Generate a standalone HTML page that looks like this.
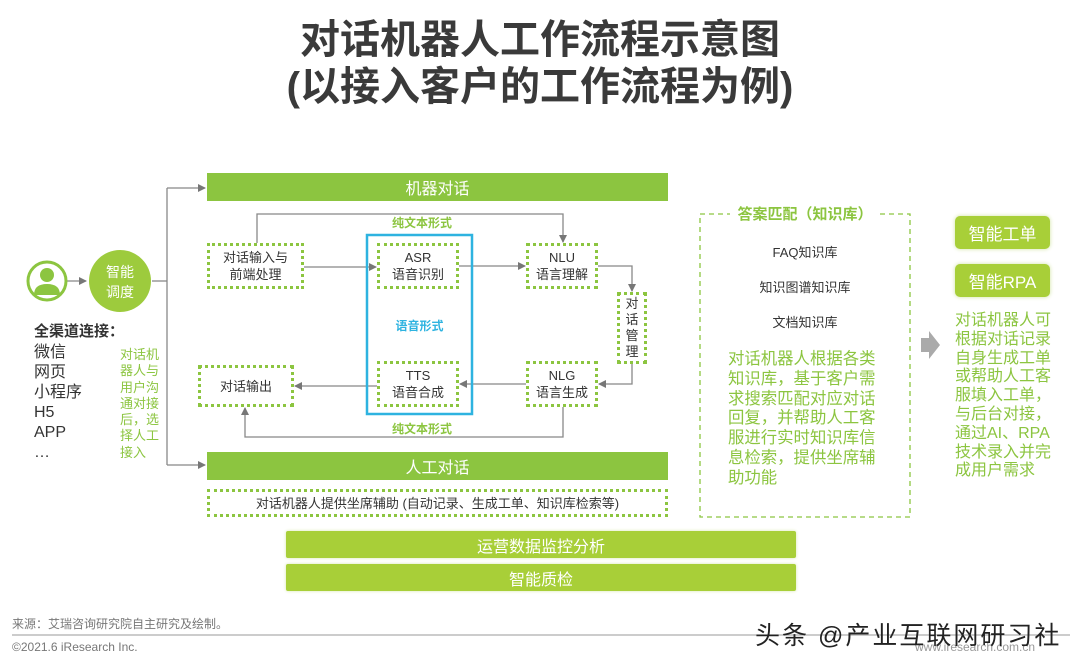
<!DOCTYPE html>
<html><head><meta charset="utf-8">
<style>
*{margin:0;padding:0;box-sizing:border-box}
body{width:1080px;height:668px;background:#fff;position:relative;overflow:hidden;font-family:"Liberation Sans","Noto Sans CJK SC",sans-serif;color:#333}
.a{position:absolute}
.t{position:absolute;left:0;width:1080px;text-align:center;font-weight:bold;font-size:40px;color:#3a3a3a;line-height:48px}
.bar{position:absolute;background:#8cc540;color:#fff;font-size:16px;display:flex;align-items:center;justify-content:center}
.bar2{position:absolute;background:#a8cf38;color:#fff;font-size:16px;display:flex;align-items:center;justify-content:center;border-radius:2px;box-shadow:0 0 3px #d8e8b0}
.box{position:absolute;border:3px dotted #8cc540;background:#fff;font-size:13px;color:#333;display:flex;align-items:center;justify-content:center;text-align:center;line-height:17px}
.g{color:#8cc540}
.btn{position:absolute;background:#a8cf38;color:#fff;font-size:17px;border-radius:5px;display:flex;align-items:center;justify-content:center;box-shadow:0 0 4px #cfe3a0}
</style></head><body>
<div class="t" style="top:16px">对话机器人工作流程示意图</div>
<div class="t" style="top:63px">(以接入客户的工作流程为例)</div>

<svg class="a" style="left:0;top:0" width="1080" height="668">
<defs><marker id="ar" markerWidth="8" markerHeight="8" refX="7" refY="4" orient="auto" markerUnits="userSpaceOnUse"><path d="M0,0 L8,4 L0,8z" fill="#777"/></marker></defs>
<g stroke="#888" stroke-width="1.3" fill="none">
<line x1="67" y1="281" x2="86" y2="281" marker-end="url(#ar)"/>
<polyline points="152,281 167,281"/>
<line x1="167" y1="188" x2="167" y2="465"/>
<line x1="167" y1="188" x2="205" y2="188" marker-end="url(#ar)"/>
<line x1="167" y1="465" x2="205" y2="465" marker-end="url(#ar)"/>
<polyline points="257,243 257,214 563,214 563,242" marker-end="url(#ar)"/>
<line x1="304" y1="267" x2="376" y2="267" marker-end="url(#ar)"/>
<line x1="459" y1="266" x2="525" y2="266" marker-end="url(#ar)"/>
<polyline points="598,266 632,266 632,291" marker-end="url(#ar)"/>
<polyline points="632,364 632,384 599,384" marker-end="url(#ar)"/>
<line x1="526" y1="384" x2="460" y2="384" marker-end="url(#ar)"/>
<line x1="377" y1="386" x2="295" y2="386" marker-end="url(#ar)"/>
<polyline points="563,407 563,437 245,437 245,408" marker-end="url(#ar)"/>
</g>
<rect x="367" y="235" width="105" height="179" fill="none" stroke="#2eb3e0" stroke-width="2.5"/>
<rect x="700" y="214" width="210" height="303" fill="none" stroke="#8cc540" stroke-width="1.3" stroke-dasharray="5,4"/>
<path d="M921,338 h8 v-7 l11,14 l-11,14 v-7 h-8z" fill="#aaa"/>
<line x1="12" y1="635" x2="1070" y2="635" stroke="#999" stroke-width="1"/>
<circle cx="47" cy="281" r="19" fill="#fff" stroke="#8cc540" stroke-width="3"/>
<circle cx="47" cy="275" r="7" fill="#8cc540"/>
<path d="M34,295 q0,-11 13,-11 q13,0 13,11z" fill="#8cc540"/>
<circle cx="120" cy="281" r="31" fill="#9dcb3d"/>
</svg>

<div class="a" style="left:89px;top:262px;width:62px;text-align:center;color:#fff;font-size:14px;line-height:20px">智能<br>调度</div>
<div class="a" style="left:34px;top:323px;font-size:15px;font-weight:bold;color:#333;line-height:18px">全渠道连接：</div>
<div class="a" style="left:34px;top:343px;font-size:16px;line-height:20px;color:#333">微信<br>网页<br>小程序<br>H5<br>APP<br>…</div>
<div class="a g" style="left:120px;top:347px;font-size:13px;line-height:16.3px;width:42px">对话机<br>器人与<br>用户沟<br>通对接<br>后，选<br>择人工<br>接入</div>

<div class="bar" style="left:207px;top:173px;width:461px;height:28px">机器对话</div>
<div class="bar" style="left:207px;top:452px;width:461px;height:28px">人工对话</div>
<div class="box" style="left:207px;top:489px;width:461px;height:28px">对话机器人提供坐席辅助 (自动记录、生成工单、知识库检索等)</div>
<div class="bar2" style="left:286px;top:531px;width:510px;height:27px">运营数据监控分析</div>
<div class="bar2" style="left:286px;top:564px;width:510px;height:27px">智能质检</div>

<div class="a g" style="left:372px;top:214px;width:100px;text-align:center;font-size:12px;font-weight:bold">纯文本形式</div>
<div class="a g" style="left:372px;top:420px;width:100px;text-align:center;font-size:12px;font-weight:bold">纯文本形式</div>
<div class="a" style="left:367px;top:317px;width:105px;text-align:center;font-size:12px;font-weight:bold;color:#2eb3e0">语音形式</div>

<div class="box" style="left:207px;top:243px;width:97px;height:46px">对话输入与<br>前端处理</div>
<div class="box" style="left:377px;top:243px;width:82px;height:46px">ASR<br>语音识别</div>
<div class="box" style="left:526px;top:243px;width:72px;height:46px">NLU<br>语言理解</div>
<div class="box" style="left:617px;top:292px;width:30px;height:72px;line-height:16px">对<br>话<br>管<br>理</div>
<div class="box" style="left:526px;top:361px;width:72px;height:46px">NLG<br>语言生成</div>
<div class="box" style="left:377px;top:361px;width:82px;height:46px">TTS<br>语音合成</div>
<div class="box" style="left:198px;top:365px;width:96px;height:42px">对话输出</div>

<div class="a g" style="left:730px;top:203px;width:150px;text-align:center;font-size:15px;font-weight:bold;background:#fff">答案匹配（知识库）</div>
<div class="a" style="left:700px;top:242px;width:210px;text-align:center;font-size:13px;color:#333">FAQ知识库</div>
<div class="a" style="left:700px;top:277px;width:210px;text-align:center;font-size:13px;color:#333">知识图谱知识库</div>
<div class="a" style="left:700px;top:312px;width:210px;text-align:center;font-size:13px;color:#333">文档知识库</div>
<div class="a g" style="left:728px;top:350px;width:152px;font-size:16.4px;line-height:19.8px">对话机器人根据各类知识库，基于客户需求搜索匹配对应对话回复，并帮助人工客服进行实时知识库信息检索，提供坐席辅助功能</div>

<div class="btn" style="left:955px;top:216px;width:95px;height:33px">智能工单</div>
<div class="btn" style="left:955px;top:264px;width:95px;height:33px">智能RPA</div>
<div class="a g" style="left:955px;top:312px;width:100px;font-size:16px;line-height:18.8px">对话机器人可根据对话记录自身生成工单或帮助人工客服填入工单，与后台对接，通过AI、RPA技术录入并完成用户需求</div>

<div class="a" style="left:12px;top:615px;font-size:12px;color:#777">来源：艾瑞咨询研究院自主研究及绘制。</div>
<div class="a" style="left:12px;top:640px;font-size:12px;color:#777">©2021.6 iResearch Inc.</div>
<div class="a" style="left:915px;top:640px;font-size:12px;color:#999">www.iresearch.com.cn</div>
<div class="a" style="left:755px;top:616px;font-size:25px;color:#222;letter-spacing:2px;white-space:nowrap">头条 @产业互联网研习社</div>
</body></html>
